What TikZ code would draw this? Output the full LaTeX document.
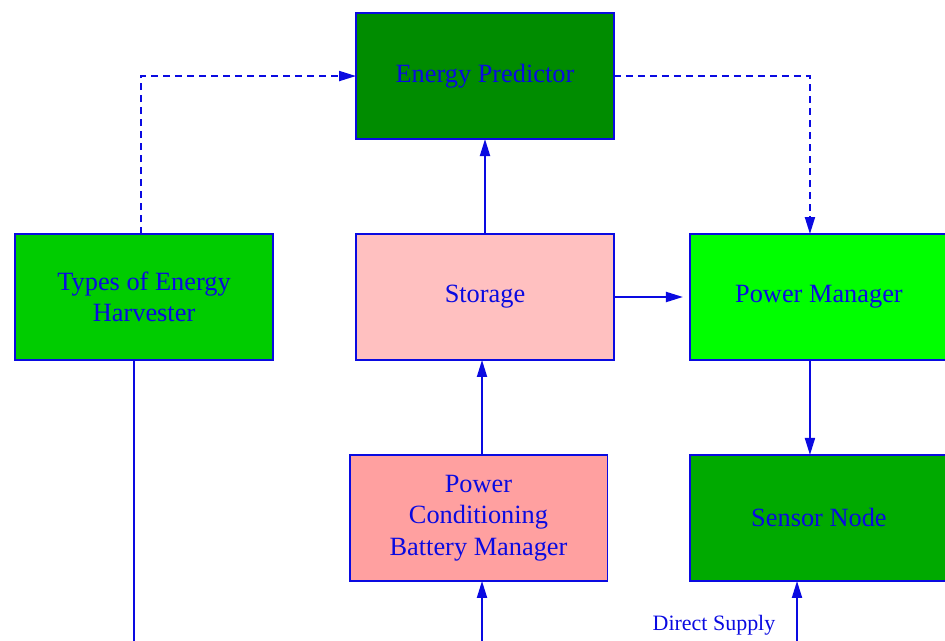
\documentclass[tikz,border=0pt]{standalone}
\usepackage{fontspec}
\setmainfont{Liberation Serif}
\usepackage{tikz}
\usetikzlibrary{arrows.meta, positioning, calc}
\definecolor{ehblue}{RGB}{10,10,225}
\definecolor{predgreen}{RGB}{0,140,0}
\definecolor{harvgreen}{RGB}{0,204,0}
\definecolor{storpink}{RGB}{255,192,192}
\definecolor{pmgreen}{RGB}{0,255,0}
\definecolor{condpink}{RGB}{255,160,160}
\definecolor{sensgreen}{RGB}{0,170,0}
\tikzset{every node/.append style={align=center}}
\tikzset{
  blk/.style={rectangle, draw=ehblue, line width=1.1pt, outer sep=0pt,
    minimum width=5.16cm, minimum height=2.52cm, text=ehblue,
    font=\fontsize{15}{18}\selectfont, align=center},
  arrow/.style={-{Triangle[length=3.4mm, width=2mm]}, line width=1.1pt, ehblue},
  dasharrow/.style={arrow, dash pattern=on 1.4mm off 1mm},
  wire/.style={line width=1.1pt, ehblue},
  albl/.style={font=\fontsize{12.5}{15}\selectfont, text=ehblue}
}

\begin{document}
\begin{tikzpicture}[x=0.02cm, y=-0.02cm, node distance=19mm and 15.2mm]
  \clip (0,0) rectangle (945,641);
  \node[blk, fill=storpink] (storage) at (485,297) {Storage};
  \node[blk, fill=predgreen, above=of storage] (predictor) {Energy Predictor};
  \node[blk, fill=pmgreen, right=of storage] (pm) {Power Manager};
  \node[blk, fill=sensgreen, below=of pm] (sensor) {Sensor Node};
  \node[blk, fill=condpink, below=of storage, xshift=-0.13cm] (cond) {Power\\Conditioning\\Battery Manager};
  \node[blk, fill=harvgreen, left=16.6mm of storage] (harvester) {Types of Energy\\Harvester};
  % free ends at the bottom edge
  \coordinate (hbot) at (134,650);
  \coordinate (cbot) at (482,650);
  \coordinate (sbot) at (797,650);
  % prediction paths
  \draw[dasharrow] ([xshift=-0.06cm]harvester.north) |- (predictor.west);
  \draw[dasharrow] (predictor.east) -| ([xshift=-0.18cm]pm.north);
  % power flow
  \draw[arrow] (storage.north) -- (predictor.south);
  \draw[arrow, shorten >=0.14cm] (storage.east) -- (pm.west);
  \draw[arrow] ([xshift=-0.18cm]pm.south) -- ([xshift=-0.18cm]sensor.north);
  \draw[arrow] (cond.north -| cbot) -- (storage.south -| cbot);
  \draw[wire] (harvester.south -| hbot) -- (hbot);
  \draw[arrow] (cbot) -- (cond.south -| cbot);
  \draw[arrow] (sbot) -- (sensor.south -| sbot);
  \node[albl] (direct) at (714,625) {Direct Supply};
\end{tikzpicture}
\end{document}
